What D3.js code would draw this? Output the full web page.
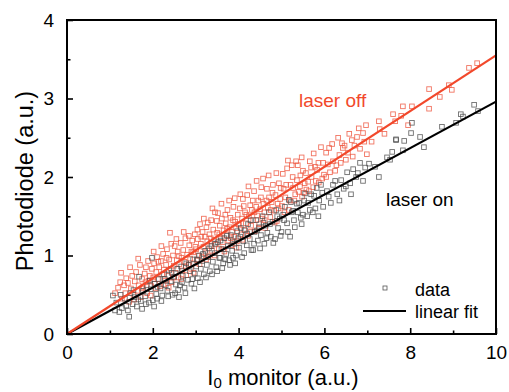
<!DOCTYPE html>
<html>
<head>
<meta charset="utf-8">
<script src="https://cdn.jsdelivr.net/npm/d3@7"></script>
<style>
  body { margin: 0; background: #fff; }
  text { font-family: "Liberation Sans", Arial, sans-serif; }
</style>
</head>
<body>
<div id="root"></div>
<script>
// laser off points [I0, photodiode]
const offPoints = [
  [1.12,0.52],[1.19,0.59],[1.24,0.66],[1.28,0.45],[1.33,0.62],[1.38,0.71],[1.42,0.65],[1.45,0.41],[1.49,0.58],[1.52,0.74],
  [1.55,0.50],[1.58,0.67],[1.61,0.79],[1.64,0.55],[1.67,0.62],[1.70,0.88],[1.72,0.47],[1.75,0.70],[1.78,0.60],[1.81,0.77],
  [1.84,0.85],[1.87,0.52],[1.90,0.68],[1.93,0.74],[1.96,0.61],[1.98,0.83],
  [2.01,0.72],[2.03,0.90],[2.05,0.64],[2.08,0.79],[2.10,0.98],[2.12,0.70],[2.15,0.85],[2.17,0.61],[2.19,0.93],[2.22,0.76],
  [2.24,1.02],[2.26,0.82],[2.29,0.68],[2.31,0.88],[2.33,1.08],[2.36,0.74],[2.38,0.95],[2.40,1.29],[2.42,0.83],[2.44,0.66],
  [2.47,1.00],[2.49,0.87],[2.51,1.12],[2.53,0.78],[2.56,0.94],[2.58,1.05],[2.60,0.72],[2.62,0.89],[2.65,1.16],[2.67,0.97],
  [2.69,0.81],[2.71,1.07],[2.74,0.92],[2.76,1.22],[2.78,0.75],[2.80,1.01],[2.83,0.88],[2.85,1.13],[2.87,0.96],[2.89,0.83],
  [2.92,1.19],[2.94,1.04],[2.96,0.90],[2.98,1.27],
  [3.01,1.08],[3.03,0.94],[3.05,1.21],[3.07,1.00],[3.10,1.40],[3.12,1.15],[3.14,0.98],[3.16,1.30],[3.18,1.11],[3.21,1.24],
  [3.23,1.03],[3.25,1.36],[3.27,1.18],[3.30,0.99],[3.32,1.27],[3.34,1.12],[3.36,1.45],[3.38,1.06],[3.41,1.33],[3.43,1.20],
  [3.45,1.55],[3.47,1.14],[3.50,1.29],[3.52,1.54],[3.54,1.09],[3.56,1.38],[3.58,1.23],[3.61,1.47],[3.63,1.17],[3.65,1.32],
  [3.67,1.05],[3.70,1.41],[3.72,1.26],[3.74,1.58],[3.76,1.19],[3.79,1.36],[3.81,1.48],[3.83,1.13],[3.85,1.30],[3.88,1.62],
  [3.90,1.24],[3.92,1.43],[3.94,1.35],[3.96,1.18],[3.98,1.52],
  [4.01,1.39],[4.03,1.60],[4.06,1.27],[4.08,1.47],[4.10,1.72],[4.13,1.33],[4.15,1.55],[4.17,1.41],[4.20,1.77],[4.22,1.25],
  [4.24,1.50],[4.27,1.64],[4.29,1.38],[4.31,1.58],[4.34,1.45],[4.36,1.82],[4.38,1.31],[4.41,1.62],[4.43,1.51],[4.46,1.70],
  [4.48,1.40],[4.50,1.59],[4.53,1.87],[4.55,1.47],[4.58,1.66],[4.60,1.55],[4.62,1.35],[4.66,1.85],[4.68,1.61],[4.71,1.74],
  [4.74,1.49],[4.77,1.68],[4.80,1.90],[4.83,1.57],[4.86,1.77],[4.89,1.44],[4.91,1.66],[4.94,1.92],[4.97,1.72],
  [5.01,1.63],[5.05,1.85],[5.09,1.74],[5.13,2.11],[5.17,1.58],[5.21,1.90],[5.24,2.15],[5.27,1.86],[5.30,1.70],[5.34,2.20],
  [5.36,1.96],[5.40,1.81],[5.44,2.02],[5.48,1.75],[5.50,2.08],[5.54,1.92],[5.58,1.84],[5.62,1.94],[5.66,2.20],[5.70,2.00],
  [5.74,1.87],[5.78,2.13],[5.83,2.09],[5.87,1.93],[5.92,2.38],[5.97,2.18],[5.99,2.03],
  [6.04,2.31],[6.04,2.00],[6.11,2.37],[6.13,2.06],[6.20,2.20],[6.28,2.15],[6.35,2.28],[6.41,2.43],[6.43,2.37],[6.50,2.22],
  [6.55,2.31],[6.64,2.47],[6.70,2.40],[6.76,2.51],[6.83,2.36],[6.90,2.56],[6.97,2.66],[6.99,2.29],
  [7.10,2.45],[7.27,2.71],[7.29,2.61],[7.40,2.55],[7.60,2.80],[7.65,2.71],[7.79,2.78],[7.83,2.90],[7.95,2.66],
  [8.04,2.90],[8.44,3.12],[8.44,2.87],[8.69,3.02],[8.90,3.17],[8.97,3.11],[9.37,3.39],[9.56,3.45],
  [1.26,0.78],[1.36,0.52],[1.47,0.85],[1.57,0.44],[1.66,0.96],[1.74,0.58],[1.83,0.66],[1.89,0.93],[1.95,0.49],
  [2.02,1.05],[2.07,0.58],[2.13,0.92],[2.20,1.12],[2.25,0.63],[2.32,0.97],[2.37,0.59],[2.43,1.15],[2.48,0.72],[2.55,1.21],
  [2.61,0.99],[2.66,0.70],[2.72,1.30],[2.77,0.86],[2.84,1.25],[2.90,1.05],[2.95,0.78],[2.99,1.11],
  [3.04,1.33],[3.09,0.89],[3.13,1.24],[3.19,1.47],[3.24,0.95],[3.28,1.42],[3.35,1.22],[3.39,1.60],[3.44,1.00],[3.49,1.44],
  [3.55,1.27],[3.60,1.66],[3.64,1.08],[3.69,1.52],[3.73,1.34],[3.78,1.70],[3.82,1.22],[3.87,1.45],[3.91,1.73],[3.95,1.10],[3.99,1.40],
  [4.04,1.78],[4.09,1.20],[4.12,1.63],[4.18,1.52],[4.23,1.88],[4.28,1.30],[4.33,1.70],[4.37,1.55],[4.42,1.95],[4.47,1.35],
  [4.52,1.74],[4.57,1.98],[4.61,1.45],[4.65,1.70],[4.70,2.02],[4.75,1.58],[4.79,1.80],[4.84,1.42],[4.88,2.05],[4.93,1.60],[4.98,1.86],
  [5.03,2.04],[5.07,1.55],[5.11,1.90],[5.15,2.21],[5.19,1.70],[5.26,2.00],[5.32,1.78],[5.38,2.15],[5.43,1.88],[5.47,2.25],
  [5.52,1.80],[5.57,2.05],[5.64,1.82],[5.69,2.12],[5.75,2.30],[5.80,1.95],[5.86,2.18],[5.95,1.98],
  [6.08,2.16],[6.18,2.42],[6.25,2.08],[6.32,2.50],[6.38,2.18],[6.47,2.40],[6.58,2.55],[6.66,2.26],[6.80,2.62],[6.93,2.45]
];

// laser on points [I0, photodiode]
const onPoints = [
  [1.07,0.49],[1.15,0.40],[1.22,0.28],[1.28,0.33],[1.35,0.45],[1.42,0.30],[1.48,0.52],[1.53,0.38],[1.58,0.47],[1.63,0.35],
  [1.68,0.73],[1.72,0.42],[1.77,0.55],[1.82,0.48],[1.86,0.62],[1.91,0.40],[1.95,0.57],[1.98,0.97],
  [2.00,0.43],[2.04,0.64],[2.08,0.51],[2.10,0.45],[2.14,0.70],[2.18,0.58],[2.22,0.49],[2.26,0.76],[2.30,0.62],[2.34,0.55],
  [2.38,0.81],[2.42,0.67],[2.46,0.50],[2.50,0.73],[2.54,0.63],[2.59,0.56],[2.63,0.62],[2.66,0.86],[2.70,0.74],[2.74,0.59],
  [2.78,0.90],[2.82,0.69],[2.86,0.80],[2.90,0.64],[2.94,0.95],[2.98,0.77],
  [3.01,0.86],[3.05,0.71],[3.08,1.00],[3.12,0.83],[3.15,0.93],[3.19,0.76],[3.22,1.06],[3.26,0.88],[3.29,0.98],[3.33,0.80],
  [3.37,1.12],[3.40,0.92],[3.44,1.03],[3.48,0.85],[3.51,1.17],[3.55,0.97],[3.57,0.97],[3.60,1.08],[3.64,0.90],[3.67,1.22],
  [3.71,1.02],[3.75,1.12],[3.78,0.94],[3.82,1.26],[3.85,1.06],[3.87,0.97],[3.90,1.15],[3.94,1.00],[3.97,1.31],
  [4.01,1.10],[4.04,1.24],[4.08,0.98],[4.11,1.18],[4.15,1.32],[4.19,1.13],[4.22,1.40],[4.26,1.21],[4.30,1.07],[4.34,1.07],
  [4.37,1.30],[4.41,1.45],[4.45,1.19],[4.48,1.36],[4.52,1.26],[4.56,1.50],[4.60,1.15],[4.63,1.38],[4.67,1.29],[4.71,1.55],
  [4.75,1.24],[4.79,1.43],[4.85,1.21],[4.88,1.58],[4.92,1.35],[4.96,1.47],
  [5.00,1.30],[5.04,1.52],[5.08,1.62],[5.13,1.41],[5.17,1.71],[5.20,1.24],[5.24,1.55],[5.27,1.57],[5.31,1.36],[5.36,1.66],
  [5.41,1.67],[5.45,1.48],[5.50,1.52],[5.55,1.79],[5.62,1.67],[5.66,1.58],[5.73,1.55],[5.76,1.76],[5.82,1.86],[5.88,1.70],
  [5.92,1.90],[5.97,1.62],
  [6.06,1.82],[6.15,1.67],[6.20,1.90],[6.30,1.78],[6.39,1.96],[6.45,1.85],[6.53,2.06],[6.60,1.92],[6.67,2.10],[6.74,2.00],
  [6.83,2.18],[6.90,1.95],
  [7.04,2.17],[7.18,2.13],[7.27,2.00],[7.46,2.25],[7.53,2.22],[7.58,2.32],[7.67,2.47],[7.67,2.48],[7.83,2.34],[7.86,2.46],
  [8.02,2.56],[8.04,2.69],[8.23,2.51],[8.32,2.38],[8.74,2.64],[9.07,2.69],[9.18,2.80],[9.23,2.77],[9.49,2.92],[9.58,2.84],
  [1.12,0.30],[1.25,0.50],[1.38,0.36],[1.45,0.22],[1.55,0.56],[1.66,0.44],[1.75,0.32],[1.84,0.38],[1.93,0.68],
  [2.03,0.35],[2.11,0.60],[2.20,0.42],[2.28,0.70],[2.36,0.48],[2.44,0.78],[2.52,0.52],[2.57,0.83],[2.61,0.47],[2.68,0.66],
  [2.76,0.52],[2.84,0.88],[2.92,0.70],[2.97,0.58],
  [3.03,0.95],[3.10,0.66],[3.17,1.02],[3.24,0.72],[3.31,1.09],[3.38,0.76],[3.45,1.15],[3.50,0.80],[3.58,1.19],[3.62,0.84],
  [3.69,0.95],[3.73,1.25],[3.80,0.88],[3.86,1.18],[3.92,0.90],[3.99,1.22],
  [4.05,1.35],[4.13,1.03],[4.20,1.28],[4.28,1.45],[4.36,1.15],[4.43,1.32],[4.50,1.09],[4.58,1.42],[4.65,1.22],[4.73,1.40],
  [4.81,1.16],[4.90,1.50],[4.98,1.25],
  [5.06,1.45],[5.15,1.30],[5.22,1.68],[5.29,1.45],[5.38,1.55],[5.47,1.40],[5.53,1.70],[5.60,1.50],[5.69,1.78],[5.79,1.60],
  [5.86,1.50],[5.95,1.80],
  [6.10,1.75],[6.25,1.95],[6.35,1.70],[6.50,1.88],[6.62,1.78],[6.78,2.05],[6.95,2.12]
];

// linear fits through origin: [x0, y0], [x1, y1]
const offFit = [[0, 0], [10, 3.55]];
const onFit = [[0, 0], [10, 2.96]];

const xTicks = [0, 2, 4, 6, 8, 10];
const xMinor = [1, 3, 5, 7, 9];
const yTicks = [0, 1, 2, 3, 4];
const yMinor = [0.5, 1.5, 2.5, 3.5];

const RED = "#f2482b";
const width = 509, height = 392;
const margin = { left: 67, right: 13, top: 20, bottom: 58 };

const svg = d3.select("#root").append("svg")
	.attr("width", width)
	.attr("height", height);

const x = d3.scaleLinear().domain([0, 10]).range([margin.left, width - margin.right]);
const y = d3.scaleLinear().domain([0, 4]).range([height - margin.bottom, margin.top]);

const line = d3.line().x(d => x(d[0])).y(d => y(d[1]));

const sq = 4.6;

const drawPoints = (data, color, opacity) => {
	svg.append("g")
		.selectAll("rect")
		.data(data).enter()
		.append("rect")
			.attr("x", d => x(d[0]) - sq / 2)
			.attr("y", d => y(d[1]) - sq / 2)
			.attr("width", sq)
			.attr("height", sq)
			.style("fill", "none")
			.style("stroke", color)
			.style("stroke-opacity", opacity)
			.style("stroke-width", 0.9);
};

drawPoints(offPoints, "#ee5a44", 0.85);
drawPoints(onPoints, "#4a4a4a", 0.8);

svg.append("path").datum(onFit)
	.attr("d", line)
	.style("fill", "none").style("stroke", "#000").style("stroke-width", 2.2);
svg.append("path").datum(offFit)
	.attr("d", line)
	.style("fill", "none").style("stroke", RED).style("stroke-width", 2.2);

// frame
svg.append("rect")
	.attr("x", x(0)).attr("y", y(4))
	.attr("width", x(10) - x(0)).attr("height", y(0) - y(4))
	.style("fill", "none").style("stroke", "#000").style("stroke-width", 2);

// axes with inward ticks
svg.append("g").attr("transform", `translate(0,${ y(0) })`)
	.call(d3.axisBottom(x).tickValues(xTicks).tickSizeInner(-6).tickSizeOuter(0).tickPadding(12).tickFormat(d3.format("d")));
svg.append("g").attr("transform", `translate(0,${ y(0) })`)
	.call(d3.axisBottom(x).tickValues(xMinor).tickSizeInner(-3.5).tickSizeOuter(0).tickFormat(""));
svg.append("g").attr("transform", `translate(${ x(0) },0)`)
	.call(d3.axisLeft(y).tickValues(yTicks).tickSizeInner(-6).tickSizeOuter(0).tickPadding(13).tickFormat(d3.format("d")));
svg.append("g").attr("transform", `translate(${ x(0) },0)`)
	.call(d3.axisLeft(y).tickValues(yMinor).tickSizeInner(-3.5).tickSizeOuter(0).tickFormat(""));

svg.selectAll(".domain").remove();
svg.selectAll(".tick line").style("stroke", "#000").style("stroke-width", 1.6);
svg.selectAll(".tick text")
	.style("font-family", "'Liberation Sans', Arial, sans-serif")
	.style("font-size", "19px")
	.style("fill", "#000");

// axis titles
svg.append("text")
	.attr("transform", `translate(33,${ (y(0) + y(4)) / 2 + 4 }) rotate(-90)`)
	.attr("text-anchor", "middle")
	.style("font-size", "23.5px")
	.text("Photodiode (a.u.)");

const xt = svg.append("text")
	.attr("x", 283)
	.attr("y", 385)
	.attr("text-anchor", "middle")
	.style("font-size", "22px");
xt.append("tspan").text("I");
xt.append("tspan").attr("dy", 3).style("font-size", "15px").text("0");
xt.append("tspan").attr("dy", -3).text(" monitor (a.u.)");

// annotations
svg.append("text").attr("x", 299).attr("y", 107)
	.style("font-size", "19px").style("fill", RED).text("laser off");
svg.append("text").attr("x", 386).attr("y", 206)
	.style("font-size", "19px").style("fill", "#000").text("laser on");

// legend
svg.append("rect")
	.attr("x", 385 - 2).attr("y", 288 - 2).attr("width", 4).attr("height", 4)
	.style("fill", "none").style("stroke", "#555").style("stroke-width", 0.8);
svg.append("text").attr("x", 415).attr("y", 296)
	.style("font-size", "18px").text("data");
svg.append("line")
	.attr("x1", 363).attr("x2", 406).attr("y1", 311).attr("y2", 311)
	.style("stroke", "#000").style("stroke-width", 2);
svg.append("text").attr("x", 415).attr("y", 318)
	.style("font-size", "18px").text("linear fit");
</script>
</body>
</html>
